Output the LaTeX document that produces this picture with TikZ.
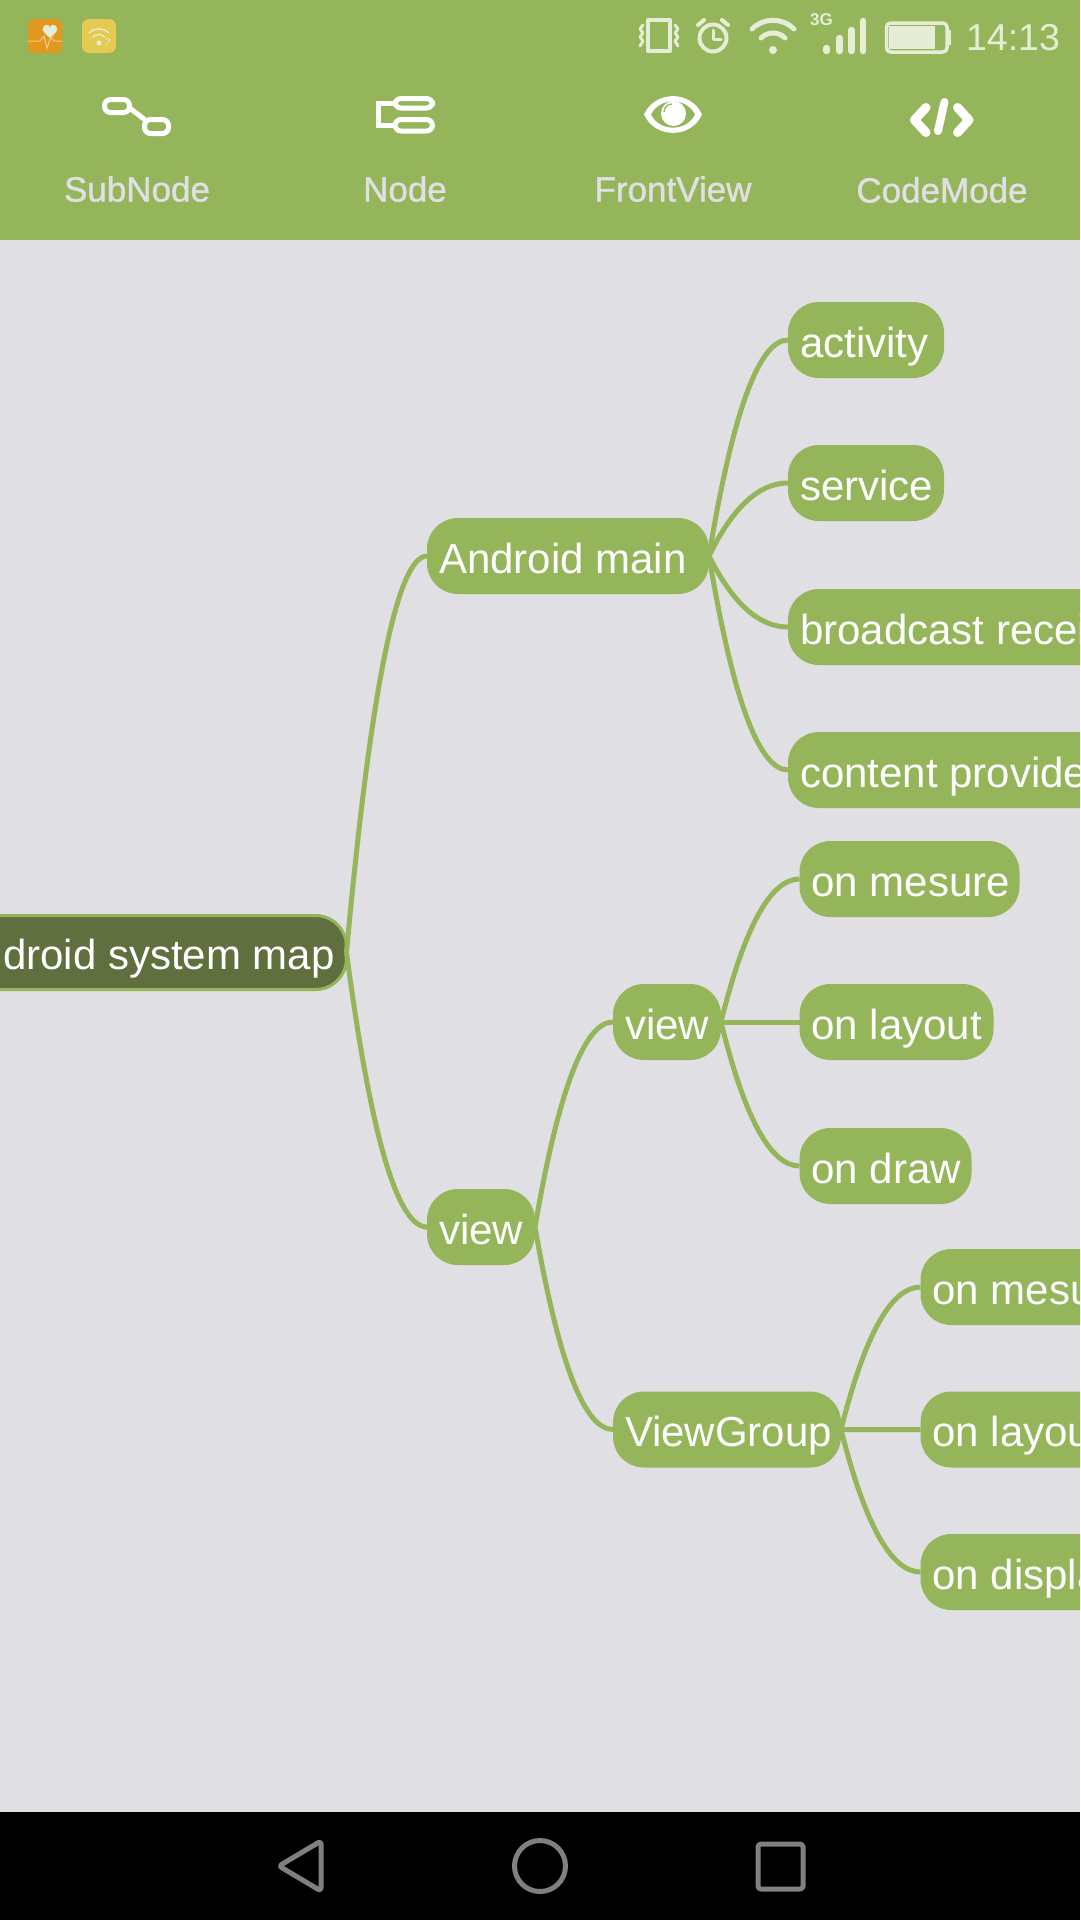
\documentclass[tikz,border=0pt]{standalone}
\usepackage{fontspec}
\setmainfont{Liberation Sans}
\newfontfamily\toolfont[FakeBold=1.1]{Liberation Sans}
\usetikzlibrary{calc}
\definecolor{cBar}{RGB}{149,181,91}
\definecolor{cBack}{RGB}{224,223,227}
\definecolor{cRoot}{RGB}{95,111,62}
\definecolor{cStatus}{RGB}{229,237,214}
\definecolor{cNav}{RGB}{128,128,128}
\definecolor{cAppA}{RGB}{226,152,30}
\definecolor{cAppB}{RGB}{229,202,82}
\tikzset{
    mapnode/.style={fill=cBar, text=white, rounded corners=31pt, outer sep=0pt, inner sep=0pt,
        inner xsep=12pt, minimum height=76pt, text height=39pt, text depth=5pt,
        font=\fontsize{42}{50}\selectfont},
    rootnode/.style={mapnode, fill=cRoot, draw=cBar, line width=3pt, minimum height=74pt},
    maplink/.style={draw=cBar, line width=5pt},
    toollabel/.style={text=cBack, inner sep=0pt, font=\toolfont\fontsize{35}{40}\selectfont},
    toolicon/.style={draw=white, line width=5pt, line cap=round, line join=round},
    statusicon/.style={draw=cStatus, line width=4pt, line cap=round, line join=round},
    navicon/.style={draw=cNav, line width=5pt, line join=round}
}
\begin{document}
\begin{tikzpicture}[x=1pt,y=-1pt]
        \useasboundingbox (0,0) rectangle (1080,1920);
        \clip (0,0) rectangle (1080,1920);
        \fill[cBack] (0,0) rectangle (1080,1920);
        \fill[cBar] (0,0) rectangle (1080,240);
        \fill[black] (0,1812) rectangle (1080,1920);

        % status bar
        \fill[cAppA, rounded corners=6pt] (28,19) rectangle (62,53);
        \fill[cStatus] (50,38) .. controls (44,33) and (42,30) .. (43,28)
            .. controls (44,24) and (49,24) .. (50,27)
            .. controls (51,24) and (56,24) .. (57,28)
            .. controls (58,30) and (56,33) .. (50,38);
        \draw[cStatus!70!orange, line width=1pt] (28,41) -- (40,41) -- (44,36) -- (47,48) -- (51,37) -- (54,41) -- (62,41);
        \fill[cAppB, rounded corners=7pt] (82,19) rectangle (116,53);
        \fill[cStatus] (99,43) circle (2.5pt);
        \draw[cStatus, line width=1.3pt] (93,37) arc (-135:-45:8.5);
        \draw[cStatus, line width=1.3pt] (89,33) arc (-135:-45:14);
        \node[inner sep=0pt, text=cStatus, font=\fontsize{10}{10}\selectfont] (nHint) at (108,42) {?};

        \draw[statusicon] (648,20) rectangle (670,51);
        \draw[statusicon, line width=3pt] (643,25) -- (640,29) -- (643,33) -- (640,37) -- (643,41) -- (640,46);
        \draw[statusicon, line width=3pt] (675,25) -- (678,29) -- (675,33) -- (678,37) -- (675,41) -- (678,46);
        \draw[statusicon] (713,38) circle (13.5pt);
        \draw[statusicon, line width=3pt] (713,30) -- (713,39) -- (721,39);
        \draw[statusicon] (698,25) -- (704,20);
        \draw[statusicon] (728,25) -- (722,20);
        \fill[cStatus] (773,50) circle (4pt);
        \draw[statusicon, line width=5pt] (761,38) arc (-135:-45:17);
        \draw[statusicon, line width=5pt] (752,29) arc (-135:-45:29.7);
        \foreach \x/\y in {826.5/48, 839.5/38, 851.5/30, 863/21}
        {
            \draw[statusicon, line width=6.5pt] (\x,\y) -- (\x,51);
        };
        \node[inner sep=0pt, text=cStatus, font=\bfseries\fontsize{17}{17}\selectfont] (nNet) at (821.5,19.5) {3G};
        \draw[statusicon, line width=3.5pt, rounded corners=4pt] (886.5,23) rectangle (947,52);
        \fill[cStatus] (889,26) rectangle (935,49);
        \fill[cStatus] (949,30) rectangle (951,45);
        \node[inner sep=0pt, text=cStatus, font=\fontsize{37.5}{40}\selectfont] (nClock) at (1013,37.5) {14:13};

        % tool bar
        \draw[toolicon, rounded corners=6pt] (104.5,99.5) rectangle (129.5,112.5);
        \draw[toolicon, rounded corners=6pt] (144.5,119.5) rectangle (168.5,133.5);
        \draw[toolicon] (131,109) -- (144,119);
        \draw[toolicon, rounded corners=6pt] (395,98.5) rectangle (432.5,108);
        \draw[toolicon, rounded corners=6pt] (395,119.5) rectangle (432.5,131);
        \draw[toolicon, line join=miter] (393,103) -- (378.5,103) -- (378.5,125) -- (393,125);
        \fill[white] (644,114.5) .. controls (655,90) and (691,90) .. (702,114.5)
            .. controls (691,139) and (655,139) .. (644,114.5);
        \fill[cBar] (651,114.5) .. controls (660,97) and (686,97) .. (695,114.5)
            .. controls (686,132) and (660,132) .. (651,114.5);
        \fill[white] (673.5,113.5) circle (12.5pt);
        \draw[cBar, line width=1.3pt] (664,112) arc (180:270:8);
        \draw[toolicon, line width=9pt] (926,107.5) -- (914.5,120) -- (926,132.5);
        \draw[toolicon, line width=9pt] (957.5,107.5) -- (969,120) -- (957.5,132.5);
        \draw[toolicon, line width=8pt] (944.5,102) -- (938,131);
        \foreach \n/\x/\y/\t in
        {nSub/137/189/SubNode,
            nNode/405/189/Node,
            nFront/673/189/FrontView,
            nCode/942/190/CodeMode}
        {
            \node[toollabel] (\n) at (\x,\y) {\t};
        };

        % map
        \node[rootnode, anchor=east] (nRoot) at (346.5,952.5) {Android system map};
        \foreach \v/\x/\y/\w/\t in
        {nMain/427/556/258/Android main,
            nActivity/788/340/132/activity,
            nService/788/483/132/service,
            nBroadcast/788/627/500/broadcast receiver,
            nContent/788/770/500/content provider,
            nView/613/1022/84/view,
            nMesure/799.5/879/196/on mesure,
            nLayout/799.5/1022/170/on layout,
            nDraw/799.5/1166/148/on draw,
            nViewB/427/1227/84/view,
            nGroup/613/1429.5/204/ViewGroup,
            nMesureB/920.5/1287/300/on mesure,
            nLayoutB/920.5/1429.5/300/on layout,
            nDisplay/920.5/1572/300/on display}
        {
            \node[mapnode, anchor=west] (\v) at (\x,\y) {\makebox[\w pt][l]{\t}};
        };

        \foreach \a/\b in
        {nRoot/nMain, nRoot/nViewB,
            nMain/nActivity, nMain/nService, nMain/nBroadcast, nMain/nContent,
            nViewB/nView, nViewB/nGroup,
            nView/nMesure, nView/nLayout, nView/nDraw,
            nGroup/nMesureB, nGroup/nLayoutB, nGroup/nDisplay}
        {
            \coordinate (cBend) at ($(\a.east |- \b.west)!0.45!(\b.west)$);
            \draw[maplink] (\a.east) .. controls ($(\a.east)!0.667!(cBend)$) and ($(\b.west)!0.667!(cBend)$) .. (\b.west);
        };

        % navigation bar
        \draw[navicon, rounded corners=3pt] (279,1866) -- (321,1841) -- (321,1891) -- cycle;
        \draw[navicon] (540,1866) circle (25.5pt);
        \draw[navicon, rounded corners=3pt] (758,1844) rectangle (803,1889);
\end{tikzpicture}
\end{document}
